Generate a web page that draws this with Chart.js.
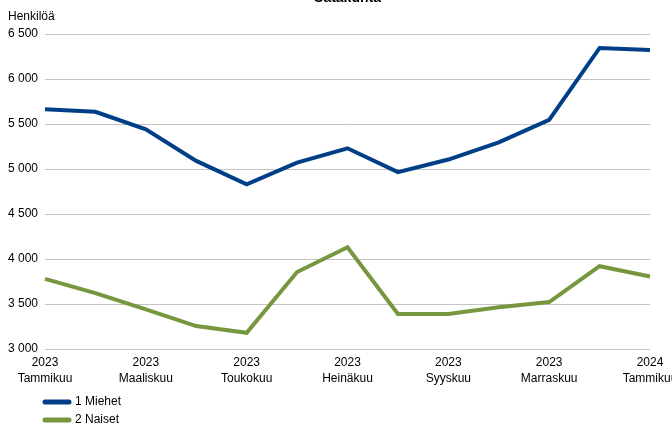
<!DOCTYPE html>
<html lang="fi">
<head>
    <meta charset="UTF-8">
    <title>Satakunta</title>
    <script src="https://cdn.jsdelivr.net/npm/chart.js@4/dist/chart.umd.min.js"></script>
    <style>
        body, html {
            margin: 0;
            padding: 0;
            background: #ffffff;
            overflow: hidden;
        }
        #wrap {
            width: 672px;
            height: 425px;
        }
    </style>
</head>
<body>
    <div id="wrap"><canvas id="myChart"></canvas></div>

    <script>
        // Months Jan 2023 - Jan 2024
        const months = ['2023 Tammikuu', '2023 Helmikuu', '2023 Maaliskuu', '2023 Huhtikuu',
            '2023 Toukokuu', '2023 Kesäkuu', '2023 Heinäkuu', '2023 Elokuu', '2023 Syyskuu',
            '2023 Lokakuu', '2023 Marraskuu', '2023 Joulukuu', '2024 Tammikuu'];
        const miehet = [5665, 5635, 5440, 5090, 4830, 5070, 5230, 4965, 5105, 5295, 5545, 6345, 6322];
        const naiset = [3780, 3620, 3440, 3255, 3180, 3855, 4130, 3390, 3390, 3465, 3522, 3920, 3805];
        const seriesNames = ['1 Miehet', '2 Naiset'];
        const yTitle = 'Henkilöä';
        const chartTitle = 'Satakunta';

        const FONT = '"Liberation Sans", Arial, sans-serif';

        // Space as thousands separator, e.g. "6 500"
        function fmt(v) {
            return String(v).replace(/\B(?=(\d{3})+(?!\d))/g, ' ');
        }

        // Title, axis caption and legend drawn on top of the chart
        const extras = {
            id: 'extras',
            afterDraw(chart) {
                const ctx = chart.ctx;
                const area = chart.chartArea;
                ctx.save();
                ctx.fillStyle = '#000';
                ctx.textBaseline = 'alphabetic';
                ctx.font = 'bold 14px ' + FONT;
                ctx.textAlign = 'center';
                ctx.fillText(chartTitle, (area.left + area.right) / 2, 2);

                ctx.font = '12px ' + FONT;
                ctx.textAlign = 'left';
                ctx.textBaseline = 'middle';
                ctx.fillText(yTitle, 8, 17);

                chart.data.datasets.forEach((ds, i) => {
                    const y = 402 + i * 18;
                    ctx.strokeStyle = ds.borderColor;
                    ctx.lineWidth = 5;
                    ctx.lineCap = 'round';
                    ctx.beginPath();
                    ctx.moveTo(45, y);
                    ctx.lineTo(69, y);
                    ctx.stroke();
                    ctx.fillStyle = '#000';
                    ctx.fillText(ds.label, 75, y);
                });
                ctx.restore();
            }
        };

        const ctx = document.getElementById('myChart').getContext('2d');
        const myChart = new Chart(ctx, {
            type: 'line',
            data: {
                labels: months,
                datasets: [{
                    label: seriesNames[0],
                    data: miehet,
                    borderColor: '#003f87',
                    borderWidth: 4,
                    pointRadius: 0,
                    tension: 0
                }, {
                    label: seriesNames[1],
                    data: naiset,
                    borderColor: '#77973f',
                    borderWidth: 4,
                    pointRadius: 0,
                    tension: 0
                }]
            },
            options: {
                responsive: true,
                maintainAspectRatio: false,
                animation: false,
                layout: {
                    padding: { top: 34, right: 22, bottom: 0, left: 0 }
                },
                plugins: {
                    legend: { display: false },
                    title: { display: false },
                    tooltip: { enabled: false }
                },
                scales: {
                    x: {
                        grid: { display: false },
                        border: { display: false },
                        ticks: {
                            autoSkip: false,
                            maxRotation: 0,
                            padding: -2,
                            color: '#000',
                            font: { family: FONT, size: 12, lineHeight: 1.34 },
                            callback: function (value, index) {
                                if (index % 2 !== 0) return null;
                                return this.getLabelForValue(value).split(' ');
                            }
                        },
                        afterFit: function (scale) {
                            scale.paddingLeft = 0;
                            scale.paddingRight = 0;
                            scale.height = 76;
                        }
                    },
                    y: {
                        min: 3000,
                        max: 6500,
                        grid: { color: '#c4c4c4', lineWidth: 1, drawTicks: false },
                        border: { display: false },
                        ticks: {
                            stepSize: 500,
                            padding: 7,
                            color: '#000',
                            font: { family: FONT, size: 12 },
                            callback: v => fmt(v)
                        },
                        afterFit: function (scale) {
                            scale.width = 45;
                        }
                    }
                }
            },
            plugins: [extras]
        });
    </script>
</body>
</html>
